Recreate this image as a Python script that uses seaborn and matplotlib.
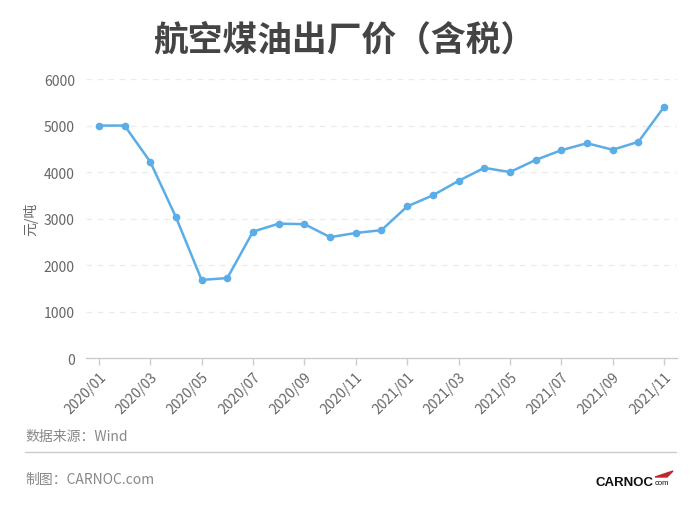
import matplotlib
matplotlib.use("Agg")
import matplotlib.pyplot as plt
import seaborn as sns
import pandas as pd
from matplotlib.patches import Polygon
from matplotlib.lines import Line2D

# data
months = [
    "2020/01", "2020/02", "2020/03", "2020/04", "2020/05", "2020/06",
    "2020/07", "2020/08", "2020/09", "2020/10", "2020/11", "2020/12",
    "2021/01", "2021/02", "2021/03", "2021/04", "2021/05", "2021/06",
    "2021/07", "2021/08", "2021/09", "2021/10", "2021/11",
]
prices = [
    5000, 5000, 4220, 3030, 1680, 1720,
    2720, 2890, 2880, 2600, 2690, 2750,
    3260, 3500, 3810, 4090, 4000, 4260,
    4470, 4620, 4480, 4650, 5400,
]
y_ticks = [0, 1000, 2000, 3000, 4000, 5000, 6000]

df = pd.DataFrame({"month": months, "price": prices})

sns.set_theme(style="white")
plt.rcParams["font.family"] = ["Noto Sans CJK SC", "DejaVu Sans"]

fig = plt.figure(figsize=(7, 5.1), dpi=100)
ax = fig.add_axes([0.1229, 0.296, 0.8441, 0.547])

line_color = "#5aade6"
sns.lineplot(
    data=df, x="month", y="price", ax=ax,
    color=line_color, linewidth=1.8,
    marker="o", markersize=5.5, markeredgewidth=0,
    sort=False,
)

ax.set_xlim(-0.5, len(months) - 0.5)
ax.set_ylim(0, 6000)
ax.set_yticks(y_ticks)
ax.set_yticklabels([str(v) for v in y_ticks], fontsize=10, color="#666666")

tick_pos = list(range(0, len(months), 2))
ax.set_xticks(tick_pos)
ax.set_xticklabels([months[i] for i in tick_pos], rotation=45, ha="right",
                   rotation_mode="anchor", fontsize=10, color="#666666")
ax.tick_params(axis="x", length=5, color="#cccccc", width=1, pad=3,
               bottom=True, direction="out")
ax.tick_params(axis="y", length=0, pad=8)

for v in y_ticks[1:]:
    ax.axhline(v, color="#ebebeb", linewidth=1, linestyle=(0, (4, 4)), zorder=0)

for s in ["top", "right", "left"]:
    ax.spines[s].set_visible(False)
ax.spines["bottom"].set_color("#cccccc")
ax.spines["bottom"].set_linewidth(1)

ax.set_xlabel("")
ax.set_ylabel("元/吨", fontsize=10, color="#666666", labelpad=4)

fig.text(0.4925, 0.921, "航空煤油出厂价（含税）", ha="center", va="center",
         fontsize=25, fontweight="bold", color="#444444")

fig.text(25 / 700, 1 - 437 / 510, "数据来源：Wind", ha="left", va="center",
         fontsize=10, color="#888888")
fig.add_artist(Line2D([25 / 700, 676 / 700], [1 - 453 / 510, 1 - 453 / 510],
                      color="#cccccc", linewidth=1, transform=fig.transFigure))
fig.text(25 / 700, 1 - 480 / 510, "制图：CARNOC.com", ha="left", va="center",
         fontsize=10, color="#888888")

# logo
fig.text(595 / 700, 1 - 483 / 510, "CARNOC", ha="left", va="center",
         fontsize=9.5, fontweight="heavy", color="#111111",
         family=["Liberation Sans", "DejaVu Sans"])
fig.text(655 / 700, 1 - 484 / 510, "com", ha="left", va="center",
         fontsize=5.5, color="#111111", family=["Liberation Sans", "DejaVu Sans"])
fig.add_artist(Polygon([[655 / 700, 1 - 478 / 510], [673 / 700, 1 - 472 / 510],
                        [667 / 700, 1 - 478 / 510]],
                       closed=True, color="#c0282d", transform=fig.transFigure))

fig.savefig("out.png", dpi=100, facecolor="white")
